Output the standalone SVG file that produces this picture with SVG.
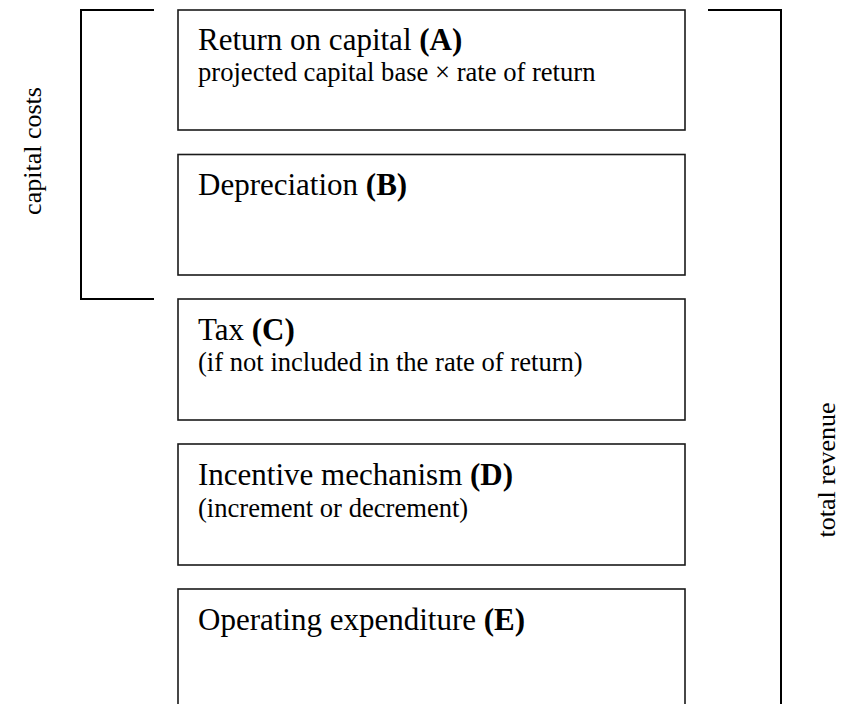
<svg xmlns="http://www.w3.org/2000/svg" width="851" height="704" viewBox="0 0 851 704">
  <style>
    .box { fill: #ffffff; stroke: #1a1a1a; stroke-width: 1.6; }
    .brace { fill: none; stroke: #000000; stroke-width: 2; }
    text { font-family: "Liberation Serif", "Times New Roman", serif; fill: #000000; }
    .title { font-size: 31px; }
    .sub { font-size: 26.6px; }
    .side { font-size: 26px; }
    .b { font-weight: bold; }
  </style>
  <rect width="851" height="704" fill="#ffffff"/>

  <!-- brackets -->
  <g id="connectors">
    <path class="brace" d="M154,10 H81 V299 H154"/>
    <path class="brace" d="M708,10 H781 V704"/>
  </g>

  <text class="side" transform="translate(41,151) rotate(-90)" text-anchor="middle">capital costs</text>
  <text class="side" transform="translate(835,470) rotate(-90)" text-anchor="middle">total revenue</text>

  <g id="node-a">
    <rect class="box" x="178" y="10" width="507" height="120"/>
    <text class="title" x="198" y="50">Return on capital <tspan class="b">(A)</tspan></text>
    <text class="sub" x="198" y="81">projected capital base × rate of return</text>
  </g>

  <g id="node-b">
    <rect class="box" x="178" y="154.5" width="507" height="120.5"/>
    <text class="title" x="198" y="195">Depreciation <tspan class="b">(B)</tspan></text>
  </g>

  <g id="node-c">
    <rect class="box" x="178" y="299" width="507" height="121"/>
    <text class="title" x="198" y="340">Tax <tspan class="b">(C)</tspan></text>
    <text class="sub" x="198" y="371">(if not included in the rate of return)</text>
  </g>

  <g id="node-d">
    <rect class="box" x="178" y="444" width="507" height="121"/>
    <text class="title" x="198" y="485">Incentive mechanism <tspan class="b">(D)</tspan></text>
    <text class="sub" x="198" y="517">(increment or decrement)</text>
  </g>

  <g id="node-e">
    <rect class="box" x="178" y="589" width="507" height="130"/>
    <text class="title" x="198" y="630">Operating expenditure <tspan class="b">(E)</tspan></text>
  </g>
</svg>
